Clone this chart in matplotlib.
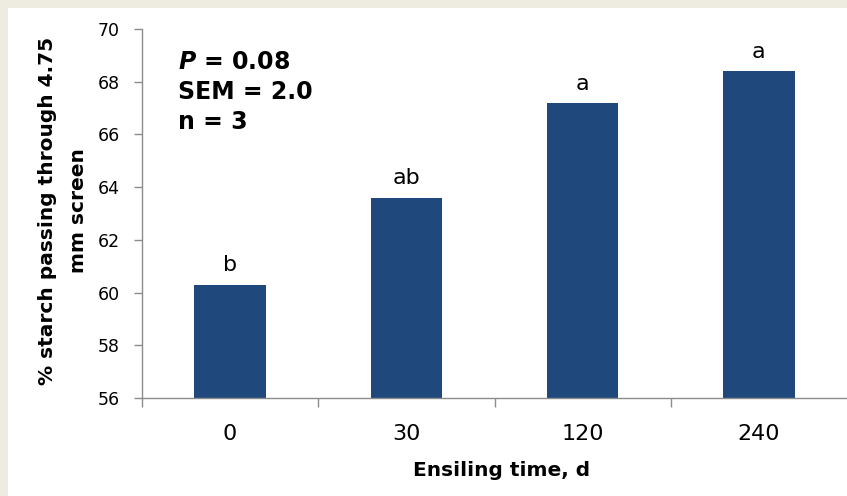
import matplotlib
matplotlib.use("Agg")
import matplotlib.pyplot as plt
from matplotlib.patches import Rectangle

categories = ["0", "30", "120", "240"]
values = [60.3, 63.6, 67.2, 68.4]
letters = ["b", "ab", "a", "a"]
y_ticks = [56, 58, 60, 62, 64, 66, 68, 70]
stats_lines = [r"$\mathbfit{P}$ = 0.08", "SEM = 2.0", "n = 3"]

W, H = 847, 496
DPI = 100
fig = plt.figure(figsize=(W / DPI, H / DPI), dpi=DPI, facecolor="white")

# beige frame strips (top and left)
fig.patches.append(Rectangle((0, 1 - 7.5 / H), 1, 7.5 / H, transform=fig.transFigure,
                             facecolor="#EEECE1", edgecolor="none", zorder=0))
fig.patches.append(Rectangle((0, 0), 7.5 / W, 1, transform=fig.transFigure,
                             facecolor="#EEECE1", edgecolor="none", zorder=0))

left_px, right_px, top_px, bottom_px = 142, 847, 29, 398
ax = fig.add_axes([left_px / W, 1 - bottom_px / H, (right_px - left_px) / W,
                   (bottom_px - top_px) / H])
ax.set_facecolor("none")

x = list(range(len(categories)))
bars = ax.bar(x, values, width=0.405, color="#1F497D", zorder=2)

ax.set_xlim(-0.5, len(categories) - 0.5)
ax.set_ylim(56, 70)
ax.set_yticks(y_ticks)
ax.set_yticklabels([str(t) for t in y_ticks])
ax.set_xticks(x)
ax.set_xticklabels(categories)
ax.set_xticks([i - 0.5 for i in range(len(categories))], minor=True)

grey = "#8C8C8C"
for s in ["top", "right"]:
    ax.spines[s].set_visible(False)
for s in ["left", "bottom"]:
    ax.spines[s].set_color(grey)
    ax.spines[s].set_linewidth(1.0)

ax.tick_params(axis="y", direction="out", length=6, width=1, color=grey,
               labelsize=12.5, pad=10, labelcolor="black")
ax.tick_params(axis="x", which="major", length=0, labelsize=16, pad=19)
ax.tick_params(axis="x", which="minor", direction="out", length=6.5, width=1, color=grey)

for xi, v, lab in zip(x, values, letters):
    ax.annotate(lab, (xi, v), xytext=(0, 9.5), textcoords="offset points",
                ha="center", va="baseline", fontsize=16)

# stats text block
for i, line in enumerate(stats_lines):
    fig.text(178 / W, 1 - (62 + 30 * i) / H, line, ha="left", va="center",
             fontsize=17, fontweight="bold")

fig.text(63 / W, 1 - 211 / H, "% starch passing through 4.75\nmm screen",
         rotation=90, ha="center", va="center", fontsize=14.5, fontweight="bold",
         linespacing=1.75, multialignment="center")
fig.text(502 / W, 1 - 471 / H, "Ensiling time, d", ha="center", va="center",
         fontsize=14.5, fontweight="bold")

fig.savefig("out.png", dpi=DPI, facecolor="white")
